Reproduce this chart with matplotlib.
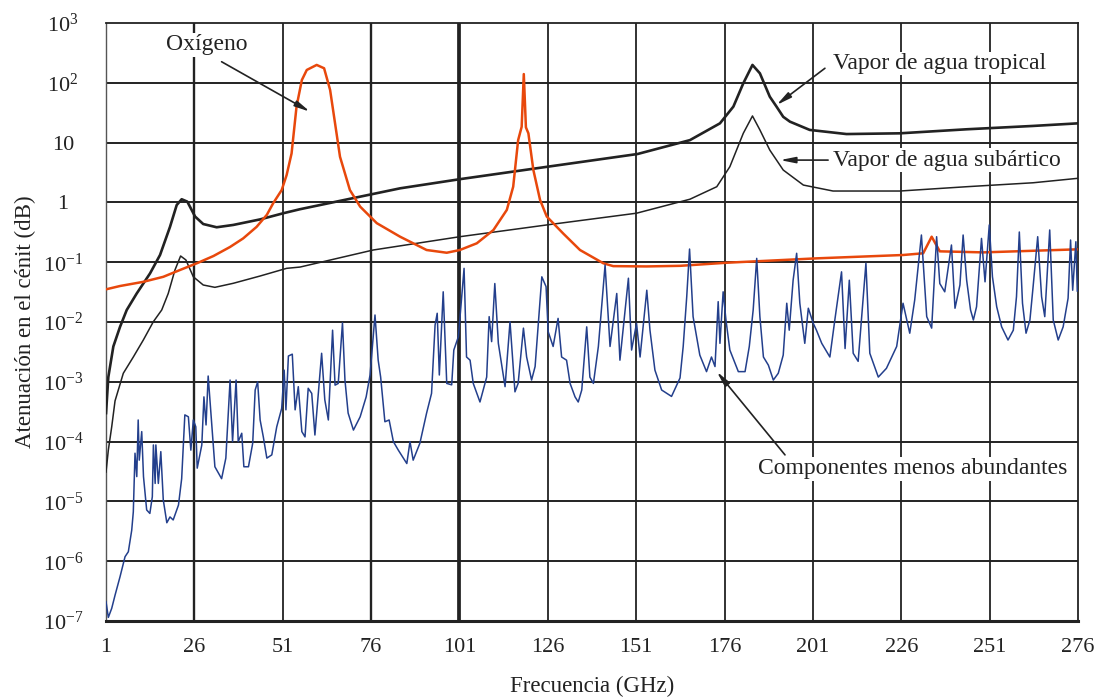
import numpy as np
import matplotlib
matplotlib.use('Agg')
import matplotlib.pyplot as plt

plt.rcParams['font.family'] = ['Liberation Serif', 'DejaVu Serif']
plt.rcParams['mathtext.fontset'] = 'custom'
plt.rcParams['mathtext.rm'] = 'Liberation Serif'

# ---- data (frequency GHz, zenith attenuation dB) ----
trop_f = [1.0, 1.65, 3.07, 4.96, 6.86, 9.68, 13.45, 16.28, 19.1, 21.0, 22.4, 24.0,
          26.2, 28.5, 32.3, 37.0, 44.6, 51.2, 55.9, 84.2, 101.4, 125.9, 151.4,
          166.2, 174.7, 178.5, 181.3, 183.9, 186.0, 188.8, 190.7, 192.6, 194.5,
          200.1, 210.5, 225.6, 244.5, 263.3, 276.0]
trop_db = [3.0e-4, 1.2e-3, 3.9e-3, 8.3e-3, 0.0159, 0.030, 0.065, 0.132, 0.39, 0.905,
           1.13, 1.03, 0.58, 0.435, 0.384, 0.42, 0.52, 0.66, 0.77, 1.72, 2.46, 3.95,
           6.45, 11.0, 21.0, 40.0, 98.0, 199.0, 144.0, 58.6, 40.0, 27.0, 22.4,
           16.3, 13.9, 14.3, 16.7, 19.0, 21.0]

sub_f = [1.0, 1.65, 2.61, 3.55, 5.89, 8.72, 11.55, 14.38, 16.76, 18.6, 20.5, 22.1,
         23.6, 25.7, 28.5, 31.8, 37.0, 44.6, 52.1, 55.9, 76.6, 101.1, 125.7, 151.1,
         166.2, 173.8, 177.5, 181.3, 183.9, 186.0, 188.8, 192.6, 198.3, 206.7,
         225.6, 244.5, 263.3, 276.0]
sub_db = [3.1e-5, 7.2e-5, 1.77e-4, 4.8e-4, 1.39e-3, 2.6e-3, 5.0e-3, 0.0101, 0.0159,
          0.030, 0.074, 0.127, 0.109, 0.057, 0.0416, 0.038, 0.0444, 0.0588, 0.079,
          0.083, 0.16, 0.267, 0.42, 0.66, 1.13, 1.83, 3.95, 14.3, 27.9, 16.3, 7.5,
          3.48, 1.95, 1.55, 1.55, 1.83, 2.13, 2.53]

oxy_f = [1.0, 4.96, 11.55, 17.2, 21.9, 26.7, 31.4, 36.1, 39.8, 43.6, 46.5, 48.3,
         50.7, 52.1, 53.5, 54.9, 56.4, 57.8, 60.6, 62.7, 64.4, 65.8, 67.2, 70.0,
         72.9, 77.6, 84.2, 91.7, 97.4, 101.1, 105.9, 110.6, 114.4, 116.2, 117.6,
         118.6, 119.2, 119.8, 120.5, 121.9, 123.8, 125.7, 130.4, 135.1, 141.7,
         144.5, 153.9, 163.4, 176.6, 202.0, 226.5, 232.2, 234.6, 236.9, 249.2, 275.6]
oxy_db = [0.0352, 0.040, 0.047, 0.057, 0.074, 0.096, 0.127, 0.18, 0.25, 0.39, 0.62,
          0.97, 1.61, 2.87, 6.6, 40.0, 111.0, 164.0, 199.0, 175.0, 76.0, 21.0, 5.8,
          1.61, 0.85, 0.45, 0.267, 0.16, 0.144, 0.16, 0.207, 0.345, 0.75, 1.83,
          11.0, 18.4, 140.0, 18.0, 14.3, 3.5, 1.1, 0.58, 0.30, 0.16, 0.096, 0.086,
          0.085, 0.087, 0.098, 0.116, 0.132, 0.141, 0.267, 0.152, 0.146, 0.164]

minor_f = [1.0, 1.65, 2.61, 3.55, 4.96, 6.38, 7.31, 8.27, 8.72, 9.2, 9.7, 10.1,
           10.4, 11.1, 11.6, 12.5, 13.4, 14.1, 14.4, 14.9, 15.1, 15.8, 16.5, 17.2,
           18.2, 19.1, 20.0, 21.5, 22.4, 23.3, 24.3, 25.0, 25.7, 26.4, 26.8, 28.1,
           28.7, 29.3, 29.9, 30.9, 31.8, 33.7, 34.9, 36.1, 36.8, 37.8, 38.4, 39.4,
           40.0, 41.3, 42.5, 43.2, 43.9, 44.6, 45.5, 46.5, 47.9, 49.3, 50.7, 51.4,
           51.9, 52.6, 53.7, 54.5, 55.4, 56.4, 57.3, 58.2, 59.2, 60.1, 62.0, 62.9,
           63.9, 65.1, 65.8, 66.7, 67.9, 68.6, 69.5, 71.0, 72.9, 74.6, 75.7, 77.1,
           78.0, 78.7, 79.9, 81.1, 82.3, 83.7, 86.1, 87.0, 87.9, 89.8, 91.7, 93.1,
           94.1, 94.7, 95.3, 96.4, 97.4, 98.8, 99.4, 100.7, 102.3, 103.0, 104.0,
           104.9, 106.8, 108.7, 109.4, 110.1, 111.0, 112.0, 113.9, 115.3, 116.7,
           117.6, 119.1, 120.0, 121.4, 122.4, 124.3, 125.5, 126.1, 127.5, 128.9,
           129.9, 131.3, 132.3, 133.7, 134.6, 135.6, 137.0, 137.9, 138.9, 140.3,
           142.2, 143.6, 145.5, 146.4, 148.8, 149.7, 151.1, 152.1, 154.0, 154.9,
           156.3, 158.2, 161.0, 163.4, 164.3, 165.3, 166.1, 167.1, 168.1, 169.0,
           170.9, 172.3, 173.3, 174.2, 174.7, 175.6, 176.4, 177.5, 179.9, 181.8,
           183.0, 184.1, 185.1, 186.0, 187.0, 188.4, 189.8, 191.2, 192.6, 193.6,
           194.3, 195.4, 196.4, 197.3, 198.7, 199.7, 201.1, 202.0, 203.5, 205.8,
           207.2, 209.1, 210.1, 211.3, 212.4, 213.8, 216.0, 217.1, 219.5, 221.8,
           224.7, 226.5, 228.4, 229.8, 231.7, 233.2, 234.6, 236.0, 236.9, 238.3,
           240.2, 241.2, 242.6, 243.5, 244.5, 245.6, 246.4, 247.3, 248.7, 249.7,
           250.9, 251.8, 253.0, 254.4, 256.2, 257.7, 258.6, 259.4, 260.3, 261.3,
           262.4, 263.3, 264.6, 265.7, 266.6, 268.0, 269.0, 270.4, 271.8, 273.2,
           273.9, 274.5, 275.4, 275.8]
minor_db = [2.1e-7, 1.15e-7, 1.63e-7, 2.7e-7, 5.5e-7, 1.19e-6, 1.44e-6, 3.3e-6,
            6.7e-6, 6.4e-5, 2.6e-5, 2.3e-4, 4.9e-5, 1.47e-4, 2.6e-5, 7.2e-6, 6.3e-6,
            1.2e-5, 8.8e-5, 2.0e-5, 8.8e-5, 2.0e-5, 6.8e-5, 1.06e-5, 4.4e-6, 5.5e-6,
            4.9e-6, 8.7e-6, 2.4e-5, 2.8e-4, 2.6e-4, 7.2e-5, 2.3e-4, 1.77e-4, 3.6e-5,
            8.8e-5, 5.6e-4, 1.9e-4, 1.25e-3, 2.0e-4, 3.8e-5, 2.4e-5, 5.3e-5, 1.07e-3,
            1.0e-4, 1.07e-3, 1.0e-4, 1.38e-4, 3.8e-5, 3.8e-5, 9.4e-5, 7.3e-4, 1.0e-3,
            2.3e-4, 1.2e-4, 5.3e-5, 6.0e-5, 1.77e-4, 3.6e-4, 1.57e-3, 3.4e-4, 2.7e-3,
            2.9e-3, 3.4e-4, 8.3e-4, 1.47e-4, 1.2e-4, 7.8e-4, 6.4e-4, 1.29e-4, 3.0e-3,
            5.0e-4, 2.3e-4, 7.3e-3, 8.8e-4, 9.4e-4, 9.7e-3, 1.07e-3, 3.0e-4, 1.56e-4,
            2.6e-4, 5.6e-4, 1.3e-3, 0.0131, 2.3e-3, 1.2e-3, 2.15e-4, 2.3e-4, 1.0e-4,
            7.2e-5, 4.3e-5, 1.0e-4, 4.9e-5, 9.4e-5, 3.0e-4, 6.4e-4, 8.9e-3, 0.014,
            1.3e-3, 0.032, 9.4e-4, 8.9e-4, 3.4e-3, 5.7e-3, 0.079, 2.6e-3, 2.3e-3,
            9.4e-4, 4.6e-4, 1.2e-3, 0.0123, 4.7e-3, 0.044, 4.4e-3, 8.3e-4, 0.0101,
            6.8e-4, 9.4e-4, 7.9e-3, 2.6e-3, 1.07e-3, 1.8e-3, 0.057, 0.039, 6.9e-3,
            3.9e-3, 0.0115, 2.6e-3, 2.3e-3, 9.4e-4, 5.6e-4, 4.6e-4, 7.3e-4, 8.3e-3,
            1.2e-3, 9.4e-4, 3.9e-3, 0.090, 3.9e-3, 0.030, 2.3e-3, 0.054, 3.4e-3,
            9.5e-3, 2.6e-3, 0.034, 7.3e-3, 1.57e-3, 7.3e-4, 5.7e-4, 1.16e-3, 3.9e-3,
            0.0265, 0.166, 0.0123, 5.7e-3, 2.8e-3, 1.48e-3, 2.6e-3, 1.8e-3, 0.0219,
            4.4e-3, 0.032, 0.0108, 3.4e-3, 1.48e-3, 1.48e-3, 3.9e-3, 0.0159, 0.116,
            0.0123, 2.6e-3, 1.9e-3, 1.07e-3, 1.39e-3, 2.8e-3, 0.0206, 7.3e-3, 0.050,
            0.141, 0.0206, 4.4e-3, 0.017, 9.5e-3, 7.3e-3, 4.4e-3, 2.6e-3, 0.0108,
            0.069, 3.6e-3, 0.050, 3.0e-3, 2.2e-3, 0.096, 3.0e-3, 1.2e-3, 1.68e-3,
            3.9e-3, 0.0206, 6.5e-3, 0.0233, 0.285, 0.0123, 7.9e-3, 0.267, 0.044,
            0.032, 0.194, 0.017, 0.0416, 0.285, 0.050, 0.0159, 0.0108, 0.018, 0.25,
            0.047, 0.42, 0.057, 0.018, 8.3e-3, 5.0e-3, 7.3e-3, 0.0265, 0.32, 0.0206,
            6.5e-3, 0.0108, 0.039, 0.267, 0.0265, 0.0123, 0.346, 0.0108, 5.0e-3,
            8.3e-3, 0.025, 0.235, 0.034, 0.22, 0.033]

xticks = [1, 26, 51, 76, 101, 126, 151, 176, 201, 226, 251, 276]
yticks = [1e-7, 1e-6, 1e-5, 1e-4, 1e-3, 1e-2, 1e-1, 1, 10, 1e2, 1e3]
ylabels = [r'$\mathregular{10^{-7}}$', r'$\mathregular{10^{-6}}$', r'$\mathregular{10^{-5}}$',
           r'$\mathregular{10^{-4}}$', r'$\mathregular{10^{-3}}$', r'$\mathregular{10^{-2}}$',
           r'$\mathregular{10^{-1}}$', '1', '10', r'$\mathregular{10^{2}}$',
           r'$\mathregular{10^{3}}$']

ink = '#222222'

fig = plt.figure(figsize=(11.01, 6.97), dpi=100)
ax = fig.add_axes([0.0963, 0.109, 0.8828, 0.858])

# grid: heavier lines at 26, 76 and 101 GHz as in the original
for xv in xticks[1:-1]:
    lw = 1.3
    if xv in (26, 76):
        lw = 1.7
    if xv == 101:
        lw = 2.7
    ax.axvline(xv, color=ink, lw=lw, zorder=1)
for yv in yticks[1:-1]:
    ax.axhline(yv, color=ink, lw=1.4, zorder=1)

ax.plot(trop_f, trop_db, color=ink, lw=1.9, zorder=3)
ax.plot(sub_f, sub_db, color=ink, lw=1.1, zorder=3)
ax.plot(oxy_f, oxy_db, color='#e8480c', lw=1.8, zorder=4)
ax.plot(minor_f, minor_db, color='#233f8c', lw=1.1, zorder=5)

ax.set_yscale('log')
ax.set_xlim(1, 276)
ax.set_ylim(1e-7, 1e3)
ax.set_xticks(xticks)
ax.set_xticklabels([str(v) for v in xticks])
ax.set_yticks(yticks)
ax.set_yticklabels(ylabels)
ax.minorticks_off()
ax.tick_params(length=0, labelsize=16, colors=ink, pad=12)
ax.tick_params(axis='y', pad=31)
for lab in ax.get_yticklabels():
    lab.set_horizontalalignment('center')

for side in ['top', 'right']:
    ax.spines[side].set_linewidth(1.3)
    ax.spines[side].set_color(ink)
ax.spines['left'].set_linewidth(1.0)
ax.spines['left'].set_color('#555555')
ax.spines['bottom'].set_linewidth(2.2)
ax.spines['bottom'].set_color(ink)

ax.set_xlabel('Frecuencia (GHz)', fontsize=16.5, color=ink, labelpad=14)
ax.set_ylabel('Atenuación en el cénit (dB)', fontsize=16.5, color=ink)
ax.yaxis.set_label_coords(-0.072, 0.5)

arrow = dict(arrowstyle='-|>,head_width=0.18,head_length=0.9', color=ink, lw=1.2,
             shrinkA=0, shrinkB=0)
box = dict(facecolor='white', edgecolor='none', pad=1)

ax.text(29.6, 429, 'Oxígeno', fontsize=17, color=ink, ha='center', va='center',
        bbox=box, zorder=6)
ax.annotate('', xy=(58.7, 32.9), xytext=(33.7, 225), arrowprops=arrow, zorder=6)

ax.text(236.9, 210, 'Vapor de agua tropical', fontsize=17, color=ink, ha='center',
        va='center', bbox=box, zorder=6)
ax.annotate('', xy=(190.7, 42.5), xytext=(204.4, 175), arrowprops=arrow, zorder=6)

ax.text(238.9, 5.1, 'Vapor de agua subártico', fontsize=17, color=ink, ha='center',
        va='center', bbox=box, zorder=6)
ax.annotate('', xy=(191.7, 5.1), xytext=(205.3, 5.1), arrowprops=arrow, zorder=6)

ax.text(229.3, 3.5e-5, 'Componentes menos abundantes', fontsize=17, color=ink,
        ha='center', va='center', bbox=box, zorder=6)
ax.annotate('', xy=(173.8, 1.48e-3), xytext=(193.1, 6.0e-5), arrowprops=arrow, zorder=6)

fig.savefig('out.png', dpi=100)
